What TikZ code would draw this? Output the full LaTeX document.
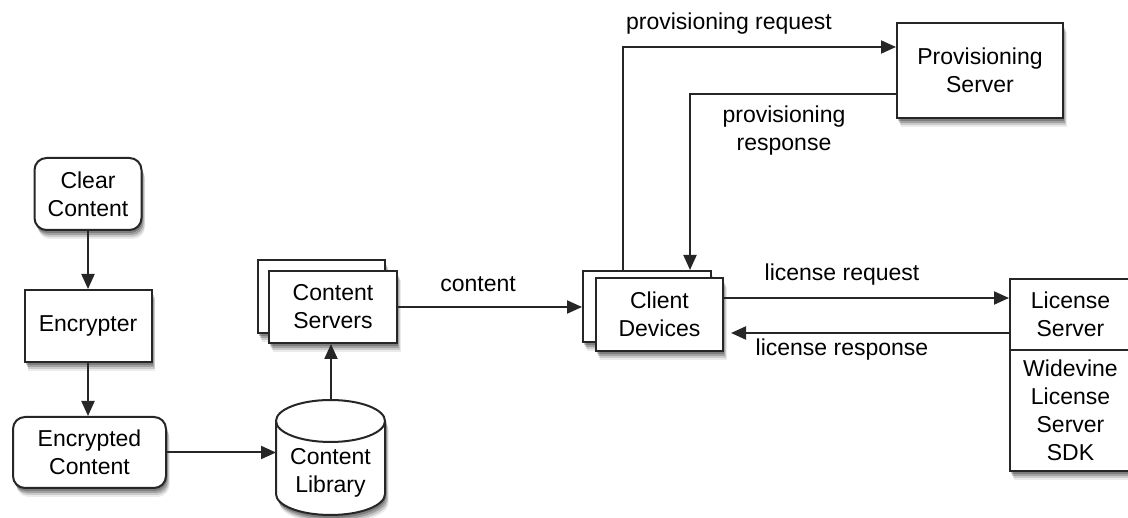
\documentclass[tikz,border=0pt]{standalone}
\usepackage{fontspec}
\setmainfont{Liberation Sans}
\usetikzlibrary{arrows.meta,shadows}
\begin{document}
\begin{tikzpicture}[x=1pt,y=-1pt,
  lc/.style={draw=black!85, line width=2pt},
  shad/.style={
    drop shadow={shadow xshift=1pt,shadow yshift=-3pt,opacity=.22,fill=black},
    drop shadow={shadow xshift=2pt,shadow yshift=-5pt,opacity=.2,fill=black},
    drop shadow={shadow xshift=3pt,shadow yshift=-7pt,opacity=.14,fill=black},
    drop shadow={shadow xshift=3.5pt,shadow yshift=-9pt,opacity=.08,fill=black}},
  box/.style={lc,fill=white,shad,align=center,inner sep=0pt,font=\fontsize{23}{28}\selectfont},
  rbox/.style={box,rounded corners=12pt},
  lbl/.style={font=\fontsize{23}{28}\selectfont,align=center,inner sep=0pt},
  arr/.style={lc,-{Triangle[length=15pt,width=13pt]}}
]
\useasboundingbox (0,0) rectangle (1128,518);

% left column
\node[rbox,minimum width=107pt,minimum height=72pt] (clear) at (88,194) {Clear\\Content};
\node[box,minimum width=127pt,minimum height=72pt] (enc) at (88,326) {Encrypter};
\node[rbox,minimum width=153pt,minimum height=71pt] (ec) at (89.5,452.5) {Encrypted\\Content};

% content library cylinder
\path[lc,fill=white,shad] (276,421) -- (276,494)
  arc[start angle=180,end angle=360,x radius=54.5pt,y radius=21pt] -- (385,421)
  arc[start angle=0,end angle=180,x radius=54.5pt,y radius=21pt] -- cycle;
\draw[lc] (276,421) arc[start angle=180,end angle=360,x radius=54.5pt,y radius=21pt];
\node[lbl] (lib) at (330.5,472.5) {Content\\Library};
\coordinate (libW) at (276,452);
\coordinate (libN) at (331,400);

% content servers
\node[box,minimum width=127pt,minimum height=73pt] (csb) at (321.5,296.5) {};
\node[box,minimum width=128pt,minimum height=72pt] (cs) at (333,307) {Content\\Servers};

% client devices
\node[box,minimum width=128pt,minimum height=71pt] (cdb) at (647,306.5) {};
\node[box,minimum width=127pt,minimum height=73pt] (cd) at (659.5,314.5) {Client\\Devices};

% provisioning server
\node[box,minimum width=166pt,minimum height=95pt] (ps) at (980,70.5) {Provisioning\\Server};

% license server
\node[box,minimum width=121pt,minimum height=71pt] (lic) at (1070.5,314.5) {License\\Server};
\node[box,minimum width=121pt,minimum height=121pt] (sdk) at (1070.5,410.5) {Widevine\\License\\Server\\SDK};

% connectors
\draw[arr] (clear.south) -- (clear.south |- enc.north);
\draw[arr] (enc.south) -- (enc.south |- ec.north);
\draw[arr] (ec.east) -- (ec.east -| libW);
\draw[arr] (libN) -- (libN |- cs.south);
\draw[arr] (cs.east) -- (cs.east -| cdb.west);
\draw[arr] ([xshift=-24pt]cdb.north) |- ([yshift=23.5pt]ps.west);
\draw[arr] ([yshift=-23.5pt]ps.west) -| ([xshift=43pt]cdb.north);
\draw[arr] ([yshift=16.5pt]cd.east) -- ([yshift=16.5pt]cd.east -| lic.west);
\draw[arr,shorten >=7pt] ([yshift=-18.5pt]lic.west) -- ([yshift=-18.5pt]lic.west -| cd.east);

% labels
\node[lbl] (lcontent) at (478,284) {content};
\node[lbl] (lpreq) at (729,24) {provisioning request};
\node[lbl] (lpres) at (784,130.5) {provisioning\\response};
\node[lbl] (llreq) at (842,275) {license request};
\node[lbl] (llres) at (842,350) {license response};
\end{tikzpicture}
\end{document}
